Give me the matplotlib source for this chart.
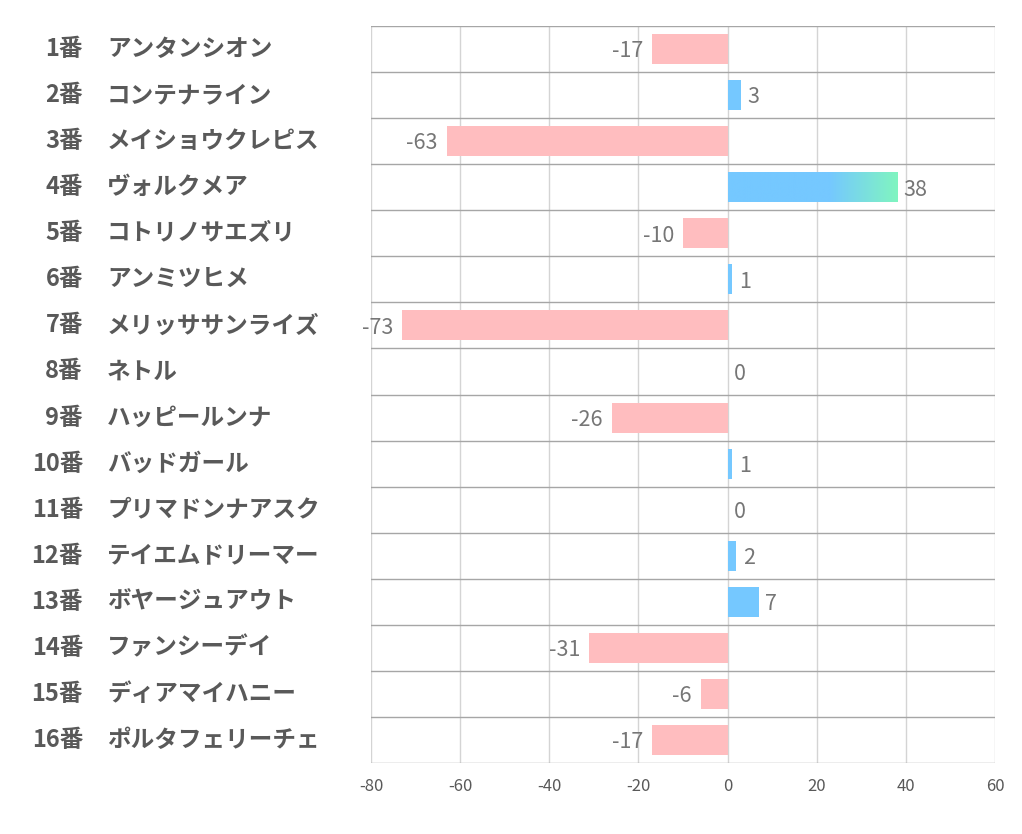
import matplotlib
matplotlib.use("Agg")
import matplotlib.pyplot as plt
import matplotlib.transforms as mtransforms
import numpy as np
from matplotlib.colors import LinearSegmentedColormap

plt.rcParams["font.family"] = ["Noto Sans CJK JP", "DejaVu Sans"]

numbers = [f"{i}番" for i in range(1, 17)]
names = ["アンタンシオン", "コンテナライン", "メイショウクレピス", "ヴォルクメア",
         "コトリノサエズリ", "アンミツヒメ", "メリッササンライズ", "ネトル",
         "ハッピールンナ", "バッドガール", "プリマドンナアスク", "テイエムドリーマー",
         "ボヤージュアウト", "ファンシーデイ", "ディアマイハニー", "ポルタフェリーチェ"]
values = [-17, 3, -63, 38, -10, 1, -73, 0, -26, 1, 0, 2, 7, -31, -6, -17]
xticks = [-80, -60, -40, -20, 0, 20, 40, 60]

PINK, BLUE, GREEN = "#FFBDBF", "#75C8FF", "#80F5C0"
TXT, LBL = "#595959", "#767676"

fig = plt.figure(figsize=(10.22, 8.34), dpi=100)
ax = fig.add_axes([371 / 1022, 1 - 763 / 834, 624 / 1022, 737 / 834])

y = np.arange(len(values))
h = 0.65
vmax = max(values)
for yi, v in zip(y, values):
    if v < 0:
        ax.barh(yi, v, height=h, color=PINK, zorder=2)
    elif v == vmax:
        cmap = LinearSegmentedColormap.from_list(
            "g", [(0, BLUE), (0.6, BLUE), (1, GREEN)])
        grad = np.linspace(0, 1, 256).reshape(1, -1)
        ax.imshow(grad, cmap=cmap, aspect="auto", zorder=2,
                  extent=[0, v, yi + h / 2, yi - h / 2])
    elif v > 0:
        ax.barh(yi, v, height=h, color=BLUE, zorder=2)
    if v < 0:
        ax.text(v - 2.0, yi + 0.05, f"{v}", ha="right", va="center",
                fontsize=15.5, color=LBL)
    else:
        ax.text(v + 1.5, yi + 0.05, f"{v}", ha="left", va="center",
                fontsize=15.5, color=LBL)

ax.set_xlim(-80, 60)
ax.set_ylim(len(values) - 0.5, -0.5)
ax.set_xticks(xticks)
ax.set_xticklabels([str(t) for t in xticks], fontsize=12, color=TXT)
ax.set_yticks([])
ax.tick_params(axis="x", length=0, pad=11)
for s in ax.spines.values():
    s.set_visible(False)
for t in xticks:
    ax.axvline(t, color="#D4D4D4", lw=1, zorder=1)
for k in range(len(values) + 1):
    ax.axhline(k - 0.5, color="#A6A6A6", lw=1, zorder=1)

trans = mtransforms.blended_transform_factory(fig.transFigure, ax.transData)
for yi, n, nm in zip(y, numbers, names):
    fig.text(83 / 1022, yi, n, transform=trans, ha="right", va="center",
             fontsize=17, fontweight="bold", color=TXT)
    fig.text(107 / 1022, yi, nm, transform=trans, ha="left", va="center",
             fontsize=17, fontweight="bold", color=TXT)

fig.savefig("out.png", dpi=100)
